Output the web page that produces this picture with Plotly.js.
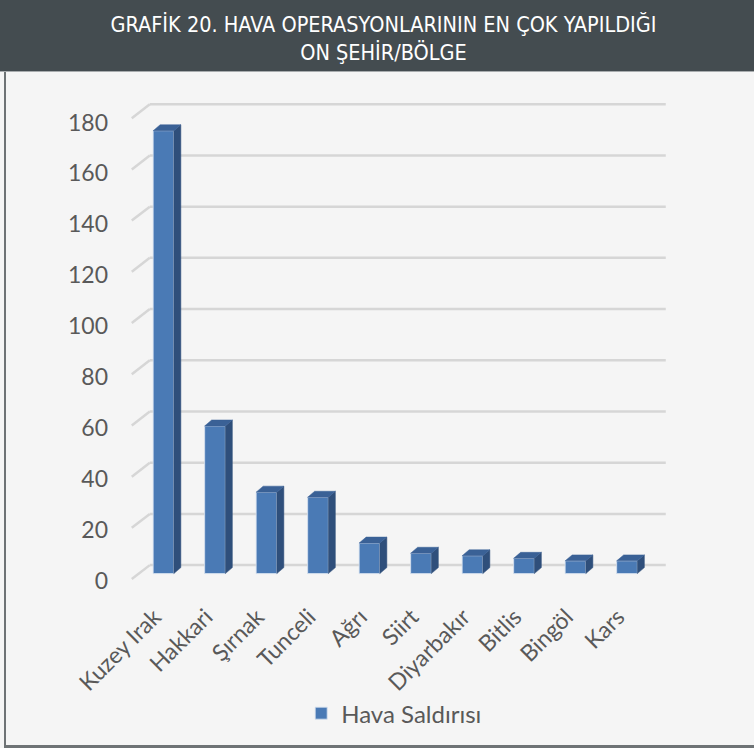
<!DOCTYPE html>
<html>
<head>
<meta charset="utf-8">
<script src="https://cdn.plot.ly/plotly-3.0.1.min.js"></script>
<style>
  html, body { margin: 0; padding: 0; background: #f5f5f5; }
  #wrap { position: relative; width: 754px; height: 748px; background: #f5f5f5; overflow: hidden; }
  #bar { position: absolute; left: 0; top: 0; width: 754px; height: 71px; background: #444c50; border-bottom: 1px solid #a8acae; }
  #lb { position: absolute; left: 4px; top: 72px; width: 2px; height: 676px; background: #6e7375; }
  #bb { position: absolute; left: 4px; top: 745px; width: 750px; height: 3px; background: #6e7375; }
  #chart { position: absolute; left: 0; top: 0; width: 754px; height: 748px; }
</style>
</head>
<body>
<div id="wrap">
  <div id="bar"></div>
  <div id="lb"></div>
  <div id="bb"></div>
  <div id="chart"></div>
</div>
<script>
// ---- data ----
const categories = ["Kuzey Irak", "Hakkari", "Şırnak", "Tunceli", "Ağrı", "Siirt", "Diyarbakır", "Bitlis", "Bingöl", "Kars"];
const values = [174, 58, 32, 30, 12, 8, 7, 6, 5, 5];
const yTicks = [0, 20, 40, 60, 80, 100, 120, 140, 160, 180];
const seriesName = "Hava Saldırısı";
const chartTitle = "GRAFİK 20. HAVA OPERASYONLARININ EN ÇOK YAPILDIĞI<br>ON ŞEHİR/BÖLGE";

// ---- style / geometry ----
const idx = categories.map((_, i) => i);
const barWidth = 0.402;
const half = barWidth / 2;
const depthX = 0.136;   // depth of 3D bars (x units)
const depthY = 2.35;    // depth of 3D bars (y units)
const frontColor = "#4a7ab5";
const sideColor = "#2f4f7b";
const topColor = "#3a6196";

// side faces and top faces built from values
const sideX = [], sideY = [], topX = [], topY = [];
idx.forEach(i => {
  const v = values[i];
  sideX.push(i + half, i + half + depthX, i + half + depthX, i + half, i + half, null);
  sideY.push(0, depthY, v + depthY, v, 0, null);
  topX.push(i - half, i - half + depthX, i + half + depthX, i + half, i - half, null);
  topY.push(v, v + depthY, v + depthY, v, v, null);
});

// back wall gridlines (3D floor/wall effect) as shapes beneath the traces
const wallLeft = -0.266, wallRight = 9.753, stubFront = -0.616;
const backScale = 1.006, backOffset = 3.33, stubDrop = 5.48;
const shapes = [];
yTicks.forEach(t => {
  const yb = t * backScale + backOffset;
  shapes.push({type: "line", xref: "x", yref: "y", layer: "below",
    x0: wallLeft, x1: wallRight, y0: yb, y1: yb,
    line: {color: "#d6d6d6", width: 2.5}});
  shapes.push({type: "line", xref: "x", yref: "y", layer: "below",
    x0: stubFront, x1: wallLeft, y0: yb - stubDrop, y1: yb,
    line: {color: "#d6d6d6", width: 2.5}});
});

const traces = [
  {
    type: "bar", x: idx, y: values, name: seriesName, width: barWidth,
    marker: {color: frontColor, line: {color: "rgba(215,226,240,0.85)", width: 1}},
    hoverinfo: "skip", showlegend: true
  },
  {
    type: "scatter", mode: "lines", x: sideX, y: sideY, fill: "toself",
    fillcolor: sideColor, line: {color: sideColor, width: 0.5},
    hoverinfo: "skip", showlegend: false
  },
  {
    type: "scatter", mode: "lines", x: topX, y: topY, fill: "toself",
    fillcolor: topColor, line: {color: topColor, width: 0.5},
    hoverinfo: "skip", showlegend: false
  }
];

const layout = {
  width: 754, height: 748,
  paper_bgcolor: "rgba(0,0,0,0)",
  plot_bgcolor: "rgba(0,0,0,0)",
  margin: {l: 110, r: 64, t: 90, b: 148},
  font: {family: "Lato, 'Open Sans', sans-serif", color: "#595959"},
  title: {
    text: chartTitle,
    xref: "container", x: 0.5086, xanchor: "center",
    yref: "container", y: 1 - 32 / 748, yanchor: "middle",
    font: {family: "'Liberation Sans Narrow', 'DejaVu Sans Condensed', sans-serif", size: 21.5, color: "#ffffff"}
  },
  xaxis: {
    range: [-1.0388, 10.2233],
    tickmode: "array", tickvals: idx, ticktext: categories,
    tickangle: -45, showgrid: false, zeroline: false, showline: false, ticks: "",
    ticklabelshift: -9,
    tickfont: {family: "Lato, sans-serif", size: 23, color: "#595959"},
    fixedrange: true
  },
  yaxis: {
    range: [-9.59, 190.0],
    tickmode: "array", tickvals: yTicks,
    showgrid: false, zeroline: false, showline: false, ticks: "",
    ticklabelshift: 7, ticklabelstandoff: 1,
    tickfont: {family: "Lato, sans-serif", size: 23, color: "#595959"},
    fixedrange: true
  },
  shapes: shapes,
  showlegend: true,
  legend: {
    orientation: "h", x: 0.49, xanchor: "center", y: -0.2275, yanchor: "middle",
    font: {family: "Lato, sans-serif", size: 24, color: "#595959"},
    bgcolor: "rgba(0,0,0,0)"
  },
  bargap: 0
};

Plotly.newPlot("chart", traces, layout, {displayModeBar: false, staticPlot: true});
</script>
</body>
</html>
